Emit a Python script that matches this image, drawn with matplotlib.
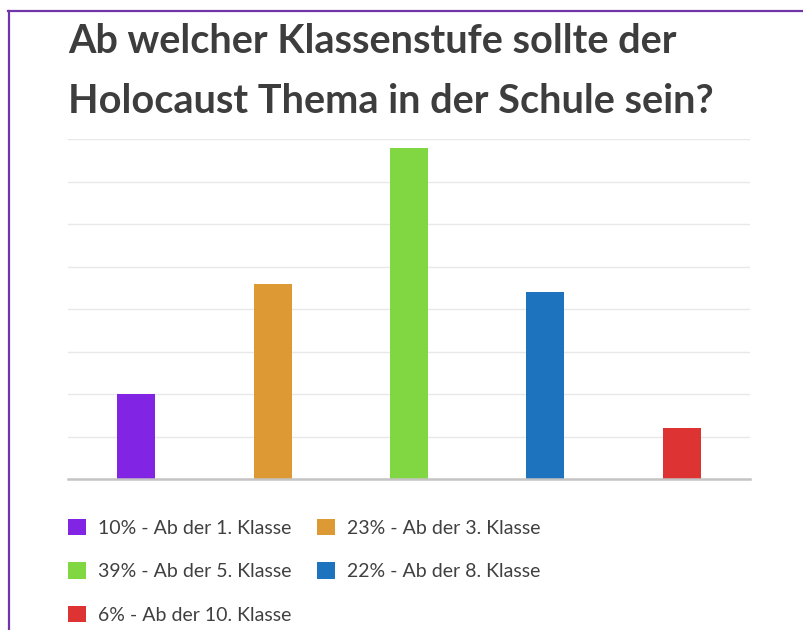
import matplotlib
matplotlib.use("Agg")
import matplotlib.pyplot as plt
from matplotlib.lines import Line2D

categories = ["Ab der 1. Klasse", "Ab der 3. Klasse", "Ab der 5. Klasse",
              "Ab der 8. Klasse", "Ab der 10. Klasse"]
percent = [10, 23, 39, 22, 6]
colors = ["#8224e3", "#dd9933", "#81d742", "#1e73be", "#dd3333"]
title = "Ab welcher Klassenstufe sollte der\nHolocaust Thema in der Schule sein?"

W, H = 804, 630
DPI = 100
FONT = "Lato"
TXT = "#404040"

fig = plt.figure(figsize=(W / DPI, H / DPI), dpi=DPI)
fig.patch.set_facecolor("white")

def px(x, y):
    return x / W, 1 - y / H

ax = fig.add_axes([68 / W, 1 - 479 / H, (750 - 68) / W, (479 - 139) / H])
x = list(range(len(categories)))
bars = ax.bar(x, percent, width=0.28, color=colors, zorder=3)
ax.set_xlim(-0.5, len(categories) - 0.5)
ax.set_ylim(0, 40)
ax.set_yticks(range(5, 41, 5))
ax.yaxis.grid(True, color="#e8e8e8", linewidth=1.0, zorder=0)
ax.set_xticks([])
ax.tick_params(axis="y", length=0, labelleft=False)
for s in ["top", "right", "left"]:
    ax.spines[s].set_visible(False)
ax.spines["bottom"].set_color("#c4c4c4")
ax.spines["bottom"].set_linewidth(1.8)
ax.spines["bottom"].set_zorder(4)

renderer = fig.canvas.get_renderer()

def fit(textobj, target_px):
    fs = textobj.get_fontsize()
    for _ in range(3):
        w = textobj.get_window_extent(renderer).width
        fs = fs * target_px / w
        textobj.set_fontsize(fs)
    return fs

# Title (va='baseline' aligns the last line's baseline)
t = fig.text(*px(68, 113), title, ha="left", va="baseline", fontsize=27,
             fontfamily=FONT, fontweight="bold", color="#3d3d3d", linespacing=1.0)
fit(t, 645)
h1 = t.get_window_extent(renderer).height
t.set_linespacing(2.0)
h2 = t.get_window_extent(renderer).height
t.set_linespacing(53 / (h2 - h1))

# Legend
labels = [f"{p}% - {c}" for p, c in zip(percent, categories)]
probe = fig.text(0, 0, labels[0], fontsize=12, fontfamily=FONT)
lfs = fit(probe, 194)
probe.remove()
fpx = lfs * DPI / 72
order = [0, 2, 4, 1, 3]
leg = ax.legend([bars[i] for i in order], [labels[i] for i in order],
                ncol=2, loc="upper left", bbox_to_anchor=px(68, 519),
                bbox_transform=fig.transFigure, frameon=False,
                borderpad=0, borderaxespad=0,
                prop={"family": FONT, "size": lfs},
                handlelength=18 / fpx, handleheight=18 / fpx,
                handletextpad=12 / fpx, labelspacing=1.3,
                columnspacing=1.3)
for txt in leg.get_texts():
    txt.set_color(TXT)

# Purple frame (top and left)
fig.add_artist(Line2D([8 / W, 1], [1 - 11 / H, 1 - 11 / H], transform=fig.transFigure,
                      color="#7035a6", linewidth=1.6))
fig.add_artist(Line2D([9 / W, 9 / W], [1 - 11 / H, 0], transform=fig.transFigure,
                      color="#7035a6", linewidth=1.6))

fig.savefig("out.png", dpi=DPI, facecolor="white")
